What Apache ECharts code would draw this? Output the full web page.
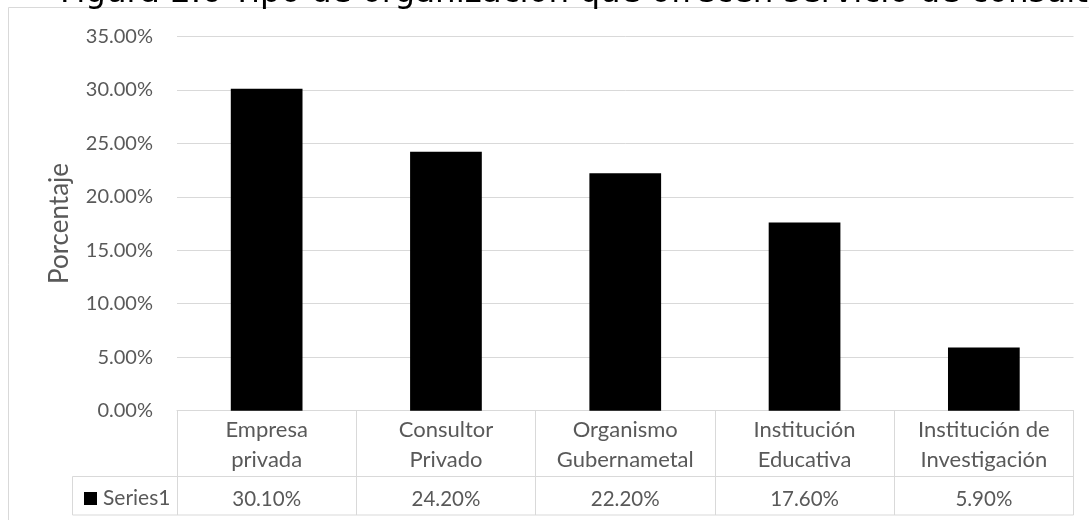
<!DOCTYPE html>
<html>
<head>
<meta charset="utf-8">
<script src="https://cdn.jsdelivr.net/npm/echarts@6/dist/echarts.min.js"></script>
<style>
html,body{margin:0;padding:0;background:#fff;}
#chart{width:1089px;height:520px;}
</style>
</head>
<body>
<div id="chart"></div>
<script>
const titleText = 'Figura 2.6 Tipo de organización que ofrecen servicio de consultoría';
const yAxisTitle = 'Porcentaje';
const seriesName = 'Series1';
const categories = ['Empresa\nprivada', 'Consultor\nPrivado', 'Organismo\nGubernametal', 'Institución\nEducativa', 'Institución de\nInvestigación'];
const values = [30.1, 24.2, 22.2, 17.6, 5.9];
const yMin = 0, yMax = 35, yStep = 5;

const pct = v => v.toFixed(2) + '%';
const FONT = 'Lato';
const GREY = '#595959';
const LINE = '#d9d9d9';

const chart = echarts.init(document.getElementById('chart'), null, {renderer: 'canvas'});
chart.setOption({
  animation: false,
  backgroundColor: '#fff',
  graphic: [
    {type: 'rect', silent: true, z: -10,
     shape: {x: 8.5, y: 7.5, width: 1200, height: 700},
     style: {fill: null, stroke: LINE, lineWidth: 1}},
    {type: 'rect', silent: true, z: 5,
     shape: {x: 72.5, y: 476.5, width: 1001, height: 38.5},
     style: {fill: null, stroke: LINE, lineWidth: 1}},
    {type: 'text', silent: true, z: 10, left: 60, top: -23,
     style: {text: titleText, font: '32.5px "DejaVu Sans"', fill: '#000'}}
  ],
  legend: {
    data: [seriesName], left: 79, top: 483, icon: 'rect',
    itemWidth: 13, itemHeight: 13, itemGap: 0,
    textStyle: {color: GREY, fontFamily: FONT, fontSize: 21, padding: [0, 0, 0, 1]}
  },
  grid: {left: 177, right: 15.5, top: 36.3, bottom: 109.3, containLabel: false, outerBoundsMode: 'none'},
  xAxis: {
    type: 'category', data: categories,
    axisLine: {show: true, lineStyle: {color: LINE, width: 1}},
    axisTick: {show: true, length: 104.3, lineStyle: {color: LINE, width: 1}},
    axisLabel: {
      interval: 0, margin: 4, color: GREY, fontFamily: FONT, fontSize: 21,
      formatter: (v, i) => v.split('\n').map(s => '{c|' + s + '}').join('\n') + '\n{v|' + pct(values[i]) + '}',
      rich: {
        c: {fontFamily: FONT, fontSize: 22, color: GREY, lineHeight: 30},
        v: {fontFamily: FONT, fontSize: 20.5, color: GREY, lineHeight: 50}
      }
    }
  },
  yAxis: {
    type: 'value', min: yMin, max: yMax, interval: yStep,
    name: yAxisTitle, nameLocation: 'middle', nameRotate: 90, nameGap: 104,
    nameTextStyle: {color: GREY, fontFamily: FONT, fontSize: 26},
    axisLine: {show: false}, axisTick: {show: false},
    axisLabel: {margin: 24, color: GREY, fontFamily: FONT, fontSize: 20, formatter: v => pct(v)},
    splitLine: {lineStyle: {color: LINE, width: 1}}
  },
  series: [{
    name: seriesName, type: 'bar', data: values, barWidth: '40%',
    itemStyle: {color: '#000'}
  }]
});
</script>
</body>
</html>
